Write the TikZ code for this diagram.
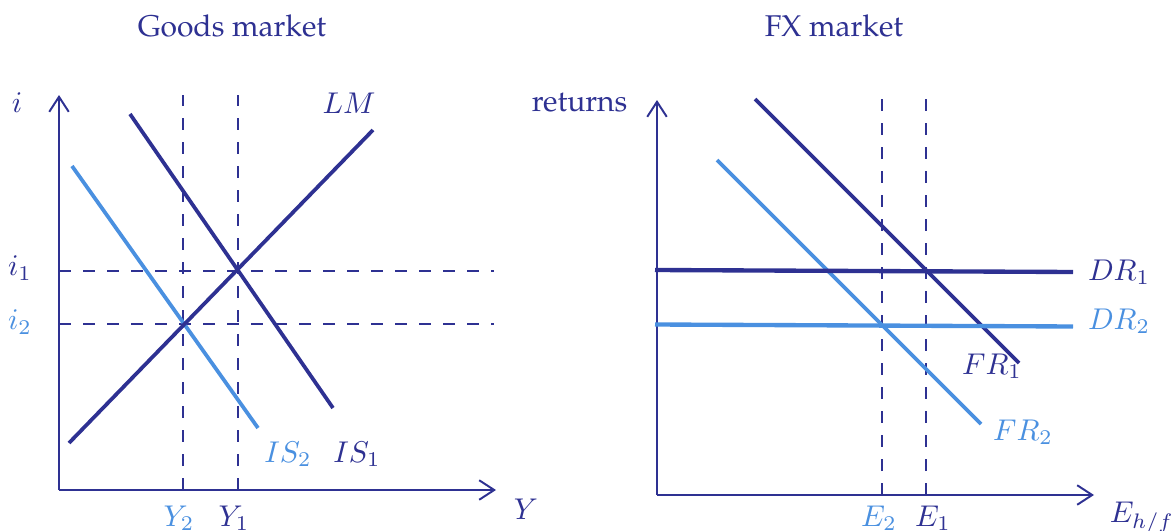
\documentclass[tikz,border=0pt]{standalone}
\usepackage[T1,TU]{fontenc}
\usetikzlibrary{arrows.meta}
\definecolor{navy}{HTML}{2E3192}
\definecolor{lblue}{HTML}{4A90E0}
\newcommand{\palfont}{\fontencoding{T1}\fontfamily{ppl}\selectfont}
\tikzset{
  axis/.style={navy, line width=0.65pt, -{Straight Barb[length=5pt,width=6.5pt,line width=0.65pt]}},
  guide/.style={navy, line width=0.75pt, dash pattern=on 4pt off 4pt},
  curvedark/.style={navy, line width=1.25pt},
  curvelight/.style={lblue, line width=1.25pt},
  flatdark/.style={navy, line width=1.45pt},
  flatlight/.style={lblue, line width=1.45pt},
  lab/.style={inner sep=0pt, text=navy},
  labl/.style={inner sep=0pt, text=lblue},
  title/.style={inner sep=0pt, text=navy, font=\palfont, anchor=base},
}
\begin{document}
\begin{tikzpicture}[x=0.3333pt, y=-0.3333pt]
\useasboundingbox (0,0) rectangle (1173,531);
% titles
\node[title] (t1) at (232,36) {Goods market};
\node[title] (t2) at (834,36) {FX market};
% ---------------- left panel
\coordinate (O1) at (59,490);
\coordinate (Ytop) at (59,95);
\coordinate (Xend) at (496,490);
\coordinate (Y2b) at (183,490);
\coordinate (Y2t) at (183,95);
\coordinate (Y1b) at (238,490);
\coordinate (Y1t) at (238,95);
\coordinate (i1a) at (59,271);
\coordinate (i1b) at (494,271);
\coordinate (i2a) at (59,324);
\coordinate (i2b) at (494,324);
\draw[guide] (Y2b) -- (Y2t);
\draw[guide] (Y1b) -- (Y1t);
\draw[guide] (i1a) -- (i1b);
\draw[guide] (i2a) -- (i2b);
\draw[axis] (O1) -- (Ytop);
\draw[axis] (O1) -- (Xend);
\coordinate (LMa) at (69,443);
\coordinate (LMb) at (373,130);
\coordinate (IS1a) at (130,114);
\coordinate (IS1b) at (333,408);
\coordinate (IS2a) at (72,166);
\coordinate (IS2b) at (258,428);
\draw[curvelight] (IS2a) -- (IS2b);
\draw[curvedark] (IS1a) -- (IS1b);
\draw[curvedark] (LMa) -- (LMb);
\node[lab] (li) at (17,103) {$i$};
\node[lab] (li1) at (20,268) {$i_1$};
\node[labl] (li2) at (20,322) {$i_2$};
\node[labl] (lY2) at (179,518) {$Y_2$};
\node[lab] (lY1) at (234,518) {$Y_1$};
\node[lab] (lY) at (526,509) {$Y$};
\node[lab] (lLM) at (349,103) {$LM$};
\node[labl] (lIS2) at (288,454) {$IS_2$};
\node[lab] (lIS1) at (357,454) {$IS_1$};
% ---------------- right panel
\coordinate (O2) at (657,495);
\coordinate (Rtop) at (657,100);
\coordinate (Eend) at (1094,495);
\coordinate (E2b) at (882,495);
\coordinate (E2t) at (882,99);
\coordinate (E1b) at (926,495);
\coordinate (E1t) at (926,99);
\draw[guide] (E2b) -- (E2t);
\draw[guide] (E1b) -- (E1t);
\draw[axis] (O2) -- (Rtop);
\draw[axis] (O2) -- (Eend);
\coordinate (FR1a) at (755,99);
\coordinate (FR1b) at (1019,363);
\coordinate (FR2a) at (717,160);
\coordinate (FR2b) at (981,424);
\coordinate (DR1a) at (655,270);
\coordinate (DR1b) at (1073,272);
\coordinate (DR2a) at (655,324.5);
\coordinate (DR2b) at (1073,326.5);
\draw[curvelight] (FR2a) -- (FR2b);
\draw[curvedark] (FR1a) -- (FR1b);
\draw[flatlight] (DR2a) -- (DR2b);
\draw[flatdark] (DR1a) -- (DR1b);
\node[lab, font=\palfont, anchor=base east] (lret) at (628,112) {returns};
\node[lab] (lDR1) at (1119,272) {$DR_1$};
\node[labl] (lDR2) at (1119,321) {$DR_2$};
\node[lab] (lFR1) at (992,366) {$FR_1$};
\node[labl] (lFR2) at (1023,432) {$FR_2$};
\node[labl] (lE2) at (879,518) {$E_2$};
\node[lab] (lE1) at (933,518) {$E_1$};
\node[lab] (lE) at (1142,518) {$E_{h/f}$};
\end{tikzpicture}
\end{document}
